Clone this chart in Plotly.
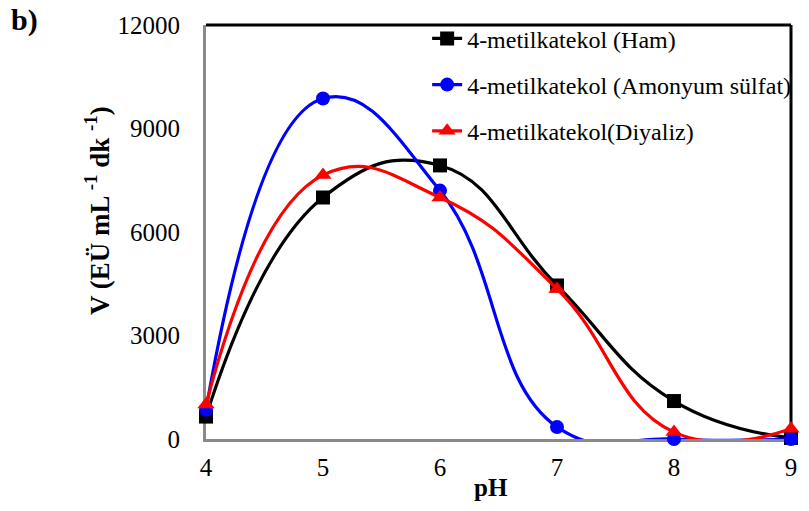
import plotly.graph_objects as go

ph = [4, 5, 6, 7, 8, 9]
ham = [650, 7000, 7930, 4450, 1100, 30]
amonyum = [850, 9870, 7200, 350, 0, 0]
diyaliz = [1000, 7650, 7000, 4350, 200, 300]

names = ["4-metilkatekol (Ham)", "4-metilkatekol (Amonyum sülfat)", "4-metilkatekol(Diyaliz)"]
colors = ["#000000", "#0000ff", "#ff0000"]
symbols = ["square", "circle", "triangle-up"]
series = [ham, amonyum, diyaliz]

x_ticks = [4, 5, 6, 7, 8, 9]
y_ticks = [0, 3000, 6000, 9000, 12000]
y_ticktext = ["0", "3000", "6000", "9000", "12000"]

fig = go.Figure()
for i, (name, vals) in enumerate(zip(names, series)):
    fig.add_trace(go.Scatter(
        x=ph, y=vals, name=name, mode="lines+markers",
        line=dict(color=colors[i], width=3.2, shape="spline", smoothing=1.3),
        marker=dict(symbol=symbols[i], size=14 if i != 2 else 15, color=colors[i]),
        cliponaxis=False, legendgroup=f"g{i}",
    ))

font_family = "Times New Roman, Liberation Serif, serif"
fig.update_layout(
    width=809, height=511,
    margin=dict(l=206, r=14, t=18, b=72),
    paper_bgcolor="white", plot_bgcolor="white",
    font=dict(family=font_family, color="black", size=24),
    showlegend=True,
    legend=dict(
        x=0.378, y=1.021, xanchor="left", yanchor="top",
        bgcolor="rgba(0,0,0,0)", font=dict(size=24, family=font_family),
        traceorder="grouped", tracegroupgap=12,
    ),
    xaxis=dict(
        range=[4, 9], tickvals=x_ticks, ticks="", showgrid=False, zeroline=False,
        showline=True, linecolor="#8a8a8a", linewidth=3, layer="below traces",
        tickfont=dict(size=25, family=font_family), ticklabelstandoff=4,
    ),
    yaxis=dict(
        range=[0, 12000], tickvals=y_ticks, ticktext=y_ticktext, ticks="",
        showgrid=False, zeroline=False,
        showline=True, linecolor="#8a8a8a", linewidth=3, layer="below traces",
        tickfont=dict(size=25, family=font_family), ticklabelstandoff=18,
    ),
    shapes=[
        dict(type="line", xref="paper", yref="paper", x0=0, x1=1, y0=1, y1=1,
             line=dict(color="black", width=3), layer="below"),
        dict(type="line", xref="paper", yref="paper", x0=1, x1=1, y0=0, y1=1,
             line=dict(color="black", width=3), layer="below"),
    ],
    annotations=[
        dict(text="<b>b)</b>", xref="paper", yref="paper", x=-0.337, y=1.058,
             xanchor="left", yanchor="top", showarrow=False,
             font=dict(size=30, family=font_family)),
        dict(text="<b>V (EÜ mL <sup>-1</sup> dk <sup>-1</sup>)</b>", xref="paper", yref="paper",
             x=-0.186, y=0.551, xanchor="center", yanchor="middle", textangle=-90,
             showarrow=False, font=dict(size=27, family=font_family)),
        dict(text="<b>pH</b>", xref="paper", yref="paper",
             x=(493 - 206) / 589, y=-0.117, xanchor="center", yanchor="middle",
             showarrow=False, font=dict(size=25, family=font_family)),
    ],
)

fig.write_html("out.html")
